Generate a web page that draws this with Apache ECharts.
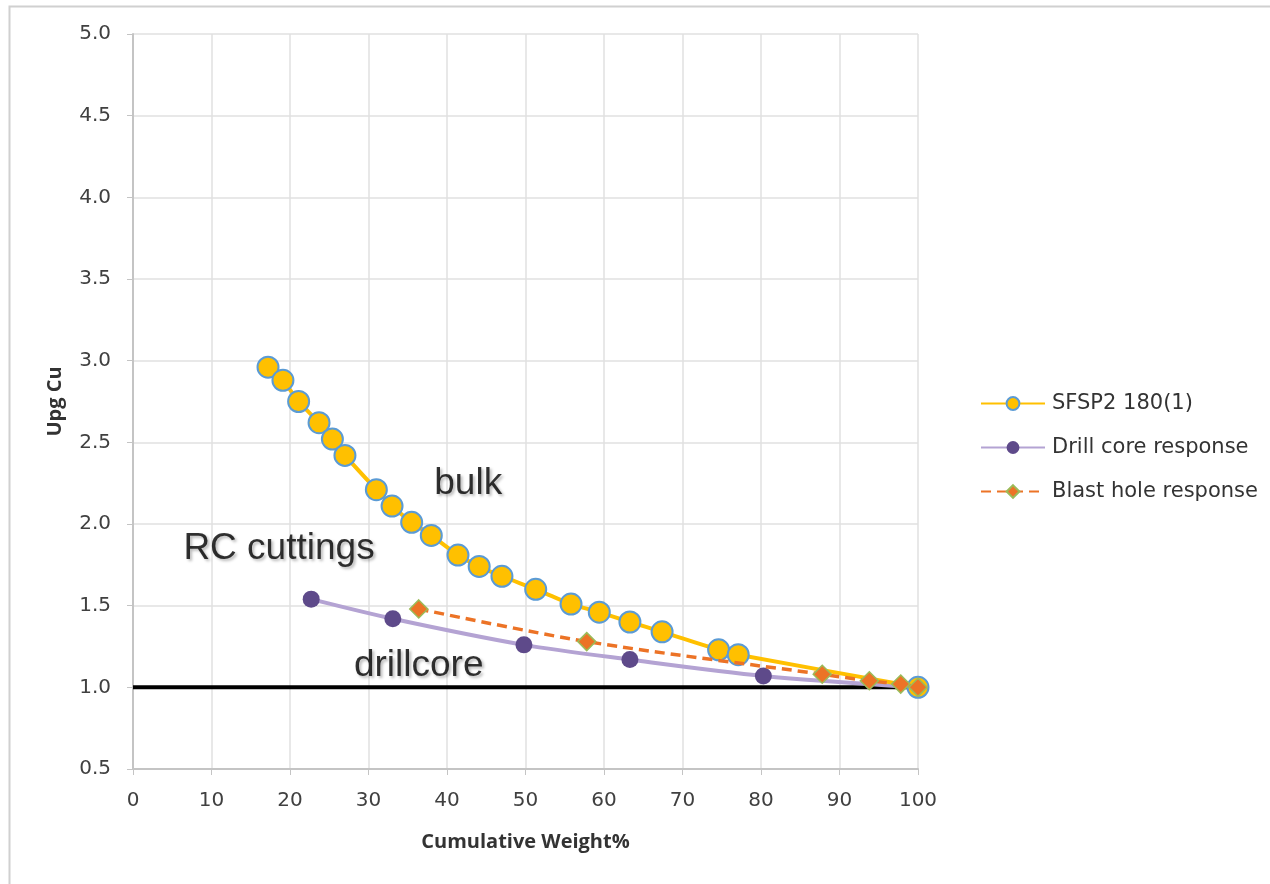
<!DOCTYPE html>
<html>
<head>
<meta charset="utf-8">
<script src="https://cdn.jsdelivr.net/npm/echarts@6/dist/echarts.min.js"></script>
<style>
  html,body{margin:0;padding:0;background:#fff;}
  #chart{width:1270px;height:884px;}
</style>
</head>
<body>
<div id="chart"></div>
<script>
// bulk response curve (SFSP2 180(1))
var bulkX = [17.2, 19.1, 21.1, 23.7, 25.4, 27.0, 31.0, 33.0, 35.5, 38.0, 41.4, 44.1, 47.0, 51.3, 55.8, 59.4, 63.3, 67.4, 74.6, 77.1, 100];
var bulkY = [2.96, 2.88, 2.75, 2.62, 2.52, 2.42, 2.21, 2.11, 2.01, 1.93, 1.81, 1.74, 1.68, 1.60, 1.51, 1.46, 1.40, 1.34, 1.23, 1.20, 1.00];
// drill core response
var coreX = [22.7, 33.1, 49.8, 63.3, 80.3, 100];
var coreY = [1.54, 1.42, 1.26, 1.17, 1.07, 1.00];
// blast hole response
var blastX = [36.4, 57.8, 87.8, 93.8, 97.8, 100];
var blastY = [1.48, 1.28, 1.08, 1.04, 1.02, 1.00];
// baseline
var baseY = 1.0;
// text notes on the plot [x, y, text]
var notes = [[42.7, 2.245, 'bulk'], [18.6, 1.85, 'RC cuttings'], [36.4, 1.13, 'drillcore']];
var seriesNames = ['SFSP2 180(1)', 'Drill core response', 'Blast hole response'];

function pairs(xs, ys){
  return xs.map(function(x, i){ return [x, ys[i]]; });
}

var chart = echarts.init(document.getElementById('chart'));
var option = {
  backgroundColor: '#fff',
  animation: false,
  graphic: [{
    type: 'rect',
    shape: {x: 9.5, y: 6.5, width: 1300, height: 900},
    style: {fill: 'none', stroke: '#d0d0d0', lineWidth: 2},
    silent: true
  }],
  grid: {left: 133, top: 34, right: 352, bottom: 115},
  legend: {
    data: seriesNames,
    orient: 'vertical',
    left: 975,
    top: 388,
    itemWidth: 64,
    itemHeight: 16,
    itemGap: 23,
    textStyle: {fontFamily: 'DejaVu Sans', fontSize: 21, color: '#333', padding: [0, 0, 0, 2]}
  },
  xAxis: {
    type: 'value',
    min: 0, max: 100, interval: 10,
    name: 'Cumulative Weight%',
    nameLocation: 'middle',
    nameGap: 63,
    nameTextStyle: {fontFamily: 'Open Sans', fontSize: 20, fontWeight: 'bold', color: '#333'},
    axisLine: {show: true, lineStyle: {color: '#c4c4c4', width: 2}},
    axisTick: {show: true, length: 6, lineStyle: {color: '#c4c4c4'}},
    axisLabel: {margin: 22, fontFamily: 'DejaVu Sans', fontSize: 20, color: '#404040'},
    splitLine: {show: true, lineStyle: {color: '#e0e0e0', width: 1.5}}
  },
  yAxis: {
    type: 'value',
    min: 0.5, max: 5, interval: 0.5,
    name: 'Upg Cu',
    nameLocation: 'middle',
    nameGap: 68,
    nameTextStyle: {fontFamily: 'Open Sans', fontSize: 20, fontWeight: 'bold', color: '#333'},
    axisLine: {show: true, lineStyle: {color: '#c4c4c4', width: 2}},
    axisTick: {show: true, length: 6, lineStyle: {color: '#c4c4c4'}},
    axisLabel: {
      margin: 22, fontFamily: 'DejaVu Sans', fontSize: 20, color: '#404040',
      formatter: function(v){ return v.toFixed(1); }
    },
    splitLine: {show: true, lineStyle: {color: '#e0e0e0', width: 1.5}}
  },
  series: [
    {
      name: 'baseline',
      type: 'line',
      data: [[0, baseY], [100, baseY]],
      symbol: 'none',
      lineStyle: {color: '#000', width: 4},
      z: 1,
      silent: true
    },
    {
      name: seriesNames[1],
      type: 'line',
      data: pairs(coreX, coreY),
      smooth: 0.3,
      symbol: 'circle',
      symbolSize: 17,
      lineStyle: {color: '#b4a3d3', width: 4},
      itemStyle: {color: '#5e4a8a'},
      z: 2
    },
    {
      name: seriesNames[2],
      type: 'line',
      data: pairs(blastX, blastY),
      smooth: 0.3,
      symbol: 'diamond',
      symbolSize: 18,
      lineStyle: {color: '#ec7326', width: 3.5, type: [10, 6]},
      itemStyle: {color: '#ec7326', borderColor: '#9bbb59', borderWidth: 1.5},
      z: 4
    },
    {
      name: seriesNames[0],
      type: 'line',
      data: pairs(bulkX, bulkY),
      smooth: 0.2,
      symbol: 'circle',
      symbolSize: 21,
      lineStyle: {color: '#ffc000', width: 4},
      itemStyle: {color: '#ffc000', borderColor: '#5b9bd5', borderWidth: 2},
      z: 3
    },
    {
      name: 'notes',
      type: 'scatter',
      data: notes.map(function(n){ return {value: [n[0], n[1]], name: n[2]}; }),
      symbolSize: 0,
      silent: true,
      z: 6,
      label: {
        show: true,
        position: 'inside',
        formatter: function(p){ return p.name; },
        fontFamily: 'Liberation Sans',
        fontSize: 37,
        color: '#000',
        textShadowColor: 'rgba(0,0,0,0.35)',
        textShadowBlur: 3,
        textShadowOffsetX: 2,
        textShadowOffsetY: 2
      }
    }
  ]
};
chart.setOption(option);
</script>
</body>
</html>
